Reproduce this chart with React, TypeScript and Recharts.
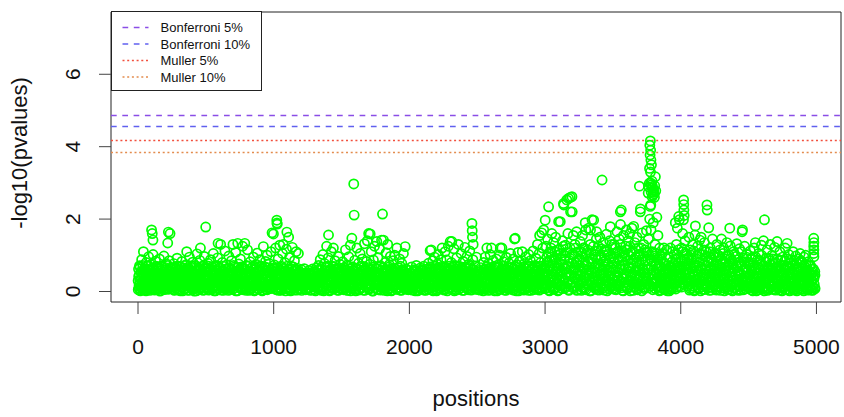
import { ScatterChart, Scatter, XAxis, YAxis, ReferenceLine, ReferenceArea } from "recharts";

// [position, -log10(pvalue)], one block per 250 positions
const block00 = [[2,.05],[5,.42],[8,.18],[11,.71],[14,.3],[17,.02],[20,.55],[23,.12],[27,.88],[30,.25],[33,.08],[36,.47],[40,1.1],[43,.2],[46,.63],[50,.04],[53,.35],[57,.15],[60,.8],[64,.27],[67,.5],[71,.09],[74,.38],[78,.96],[81,.16],[85,.6],[88,.03],[92,.31],[95,.74],[99,.22],[100,1.7],[103,.45],[105,1.6],[107,.11],[110,1.42],[111,1.02],[114,.36],[118,.06],[121,.57],[125,.24],[129,.84],[132,.14],[136,.41],[140,.66],[143,.07],[147,.29],[151,.52],[154,.19],[158,.9],[162,.01],[165,.34],[169,.7],[173,.13],[176,.44],[180,.23],[184,.61],[188,.05],[191,.98],[195,.28],[199,.48],[203,.1],[207,.77],[210,.33],[214,.17],[218,.54],[219,1.34],[222,.06],[224,1.64],[226,.39],[230,.85],[234,.21],[236,1.6],[238,.62],[242,.12],[246,.46]];
const block01 = [[252,.08],[256,.52],[260,.21],[264,.77],[268,.03],[272,.36],[276,.14],[280,.63],[284,.27],[288,.92],[292,.06],[296,.45],[300,.18],[304,.69],[308,.31],[312,.02],[316,.57],[320,.24],[324,.83],[328,.11],[332,.4],[336,.65],[340,.07],[344,.29],[348,.5],[352,.16],[356,.74],[359,1.1],[363,.34],[367,.04],[371,.58],[375,.22],[379,.95],[383,.13],[387,.43],[391,.67],[395,.09],[399,.3],[403,.81],[407,.19],[411,.53],[415,.01],[419,.37],[423,.72],[427,.15],[431,.47],[435,1.04],[439,.26],[443,.6],[447,.05],[451,.33],[455,.86],[460,1.2],[464,.12],[468,.49],[472,.23],[476,.7],[480,.03],[484,.39],[488,.97],[492,.17],[496,.55],[499,1.78]];
const block02 = [[503,.1],[507,.46],[511,.2],[515,.78],[519,.04],[523,.35],[527,.62],[531,.15],[535,.88],[539,.27],[543,.06],[547,.51],[551,.32],[555,1.05],[559,.12],[563,.42],[567,.7],[571,.02],[575,.25],[579,.58],[583,.17],[587,.93],[590,1.33],[594,.38],[598,.08],[602,.66],[606,.22],[609,1.3],[613,.45],[617,.11],[621,.8],[625,.3],[629,.03],[633,.55],[637,.19],[641,1.12],[645,.4],[649,.07],[653,.73],[657,.28],[661,.5],[665,.14],[669,.98],[673,.34],[677,.05],[681,.6],[685,.23],[689,.85],[693,.13],[697,.47],[700,1.3],[704,.09],[708,.36],[712,.68],[716,.18],[720,1.08],[724,.29],[728,.54],[732,.02],[735,1.33],[739,.41],[743,.76],[747,.16]];
const block03 = [[751,.26],[755,.9],[759,.12],[763,.5],[767,.34],[771,1.25],[775,.05],[779,.63],[783,.2],[787,1.33],[791,.44],[795,.08],[799,.72],[803,.3],[807,1.15],[811,.17],[815,.56],[819,.03],[823,.39],[827,.82],[831,.22],[835,.48],[839,.1],[843,.67],[847,.31],[851,.95],[855,.14],[859,.53],[863,.04],[867,.36],[871,.75],[875,.19],[879,1.06],[883,.42],[887,.07],[891,.6],[895,.27],[899,.88],[903,.11],[907,.45],[911,.7],[915,.02],[919,.33],[924,1.24],[928,.16],[932,.58],[936,.24],[940,.83],[944,.06],[948,.4],[952,1.0],[956,.13],[960,.52],[964,.29],[968,.77],[972,.09],[976,.37],[980,1.1],[984,.2],[988,1.62],[992,.47],[995,.65],[998,1.59]];
const block04 = [[1002,.14],[1006,.73],[1010,.31],[1014,1.2],[1018,.05],[1021,.58],[1023,1.97],[1024,1.89],[1026,1.86],[1029,.22],[1033,.9],[1037,.4],[1041,.1],[1045,1.28],[1049,.47],[1053,.03],[1057,.66],[1061,.25],[1065,1.05],[1070,1.3],[1074,.17],[1078,.55],[1082,.8],[1086,.08],[1090,.36],[1094,1.17],[1097,1.64],[1101,.28],[1105,.61],[1110,1.5],[1113,.12],[1117,.94],[1121,.43],[1125,.02],[1129,.7],[1133,.2],[1137,1.22],[1141,.35],[1145,.09],[1149,.57],[1153,.85],[1157,.15],[1161,.46],[1165,1.1],[1169,.27],[1173,.04],[1177,.64],[1182,1.05],[1186,.19],[1190,.5],[1195,.33],[1200,.07],[1205,.6],[1210,.24],[1215,.45],[1220,.11],[1225,.63],[1230,.3],[1236,.05],[1241,.52],[1246,.18]];
const block05 = [[1251,.4],[1256,.09],[1261,.58],[1266,.21],[1271,.03],[1276,.47],[1281,.26],[1286,.62],[1291,.12],[1296,.38],[1301,.05],[1306,.55],[1311,.19],[1316,.65],[1321,.3],[1326,.08],[1331,.72],[1335,.42],[1339,.15],[1343,.88],[1347,.27],[1351,.03],[1355,.6],[1359,.34],[1363,1.02],[1367,.11],[1371,.5],[1375,.77],[1379,.2],[1383,.06],[1387,.44],[1390,1.25],[1394,.68],[1398,.16],[1402,.93],[1404,1.56],[1408,.32],[1412,.02],[1416,.57],[1420,.24],[1424,1.1],[1428,.41],[1432,.08],[1436,.7],[1440,1.2],[1444,.18],[1448,.49],[1452,.85],[1456,.13],[1460,.36],[1464,.63],[1468,.04],[1472,.28],[1476,.97],[1480,.14],[1484,.53],[1488,.75],[1492,.22],[1496,.07]];
const block06 = [[1501,.45],[1505,.17],[1509,.82],[1513,.31],[1517,.05],[1521,.6],[1525,.25],[1529,1.15],[1533,.12],[1537,.5],[1541,.73],[1545,.03],[1549,.38],[1553,.96],[1557,.2],[1561,.56],[1565,1.28],[1569,.09],[1573,.43],[1576,1.47],[1580,.67],[1584,.15],[1588,.34],[1590,2.97],[1593,2.11],[1597,.86],[1601,.27],[1605,.02],[1609,.62],[1613,1.2],[1617,.19],[1621,.46],[1625,.78],[1629,.07],[1633,.35],[1637,1.05],[1641,.23],[1645,.54],[1649,.11],[1653,.9],[1657,.4],[1661,.04],[1665,.69],[1669,1.32],[1673,.28],[1677,.14],[1681,.58],[1685,.83],[1690,1.4],[1694,.2],[1698,.48],[1700,1.6],[1704,.06],[1708,.75],[1711,1.59],[1715,.33],[1719,1.1],[1723,.16],[1727,.52],[1731,.01],[1735,.87],[1739,.3],[1743,1.25],[1747,.44]];
const block07 = [[1751,.1],[1755,.64],[1760,1.38],[1764,.25],[1768,.93],[1772,.05],[1776,.47],[1780,1.18],[1784,.19],[1788,.71],[1792,.36],[1795,1.42],[1799,.12],[1802,2.14],[1806,.55],[1809,1.42],[1813,.28],[1817,.03],[1821,.8],[1825,.41],[1829,1.07],[1833,.16],[1837,.6],[1840,1.3],[1844,.08],[1848,.33],[1852,.74],[1856,.21],[1860,.97],[1864,.45],[1868,.02],[1872,.58],[1876,.26],[1880,.85],[1884,.13],[1888,.39],[1892,1.0],[1896,.18],[1900,.52],[1904,.07],[1908,1.2],[1912,.31],[1916,.66],[1920,.11],[1924,.43],[1928,.9],[1932,.04],[1936,.24],[1940,.57],[1944,.78],[1948,.15],[1952,.37],[1956,1.05],[1960,.09],[1964,.49],[1969,1.24],[1973,.29],[1977,.62],[1981,.06],[1986,.42],[1991,.2],[1996,.58]];
const block08 = [[2001,.12],[2006,.5],[2011,.27],[2016,.68],[2021,.04],[2026,.36],[2031,.18],[2036,.6],[2041,.09],[2046,.44],[2051,.72],[2056,.22],[2061,.02],[2066,.53],[2071,.31],[2076,.14],[2081,.65],[2086,.4],[2091,.07],[2096,.57],[2101,.25],[2106,.7],[2111,.16],[2116,.47],[2121,.03],[2126,.34],[2131,.62],[2136,.2],[2141,.78],[2145,.1],[2149,.45],[2153,1.13],[2157,.3],[2161,1.15],[2165,.55],[2169,.05],[2173,.85],[2177,.23],[2181,.42],[2185,.95],[2189,.13],[2193,.63],[2197,.35],[2201,.02],[2205,.76],[2209,.19],[2213,1.02],[2217,.48],[2221,.08],[2225,.58],[2229,.28],[2233,.88],[2237,.15],[2241,1.2],[2245,.4]];
const block09 = [[2251,.06],[2255,.66],[2259,.33],[2263,1.1],[2267,.17],[2271,.5],[2275,.87],[2279,.02],[2283,.4],[2287,1.25],[2291,.23],[2295,.61],[2299,.11],[2301,1.38],[2305,.45],[2309,.8],[2313,1.38],[2317,.29],[2321,.07],[2325,.56],[2329,1.18],[2333,.2],[2337,.72],[2341,.38],[2345,.04],[2349,.93],[2353,.26],[2357,.52],[2361,1.3],[2365,.14],[2369,.43],[2373,.69],[2377,.09],[2381,1.05],[2385,.31],[2389,.58],[2393,.18],[2397,.83],[2401,.03],[2405,.47],[2409,1.22],[2413,.24],[2417,.64],[2421,.12],[2425,.97],[2429,.36],[2433,.05],[2437,.75],[2441,.27],[2445,1.12],[2449,.41],[2453,.15],[2457,.6],[2461,1.88],[2463,1.68],[2465,1.5],[2468,.88],[2470,1.3],[2474,.21],[2478,.5],[2482,.08],[2486,.7],[2490,.33],[2494,.95],[2498,.16]];
const block10 = [[2502,.44],[2507,.1],[2512,.58],[2517,.25],[2522,.04],[2527,.66],[2532,.35],[2537,.15],[2542,.52],[2547,.8],[2551,.07],[2555,.4],[2559,.95],[2563,.2],[2567,.62],[2571,1.2],[2575,.3],[2579,.03],[2583,.77],[2587,.47],[2591,.12],[2595,1.02],[2599,.27],[2603,.56],[2605,1.2],[2609,.09],[2613,.38],[2617,.86],[2621,.18],[2625,.5],[2629,.02],[2633,.68],[2637,.31],[2641,.9],[2645,.14],[2649,.43],[2653,.73],[2657,.06],[2661,.36],[2665,1.0],[2670,1.2],[2674,.22],[2678,.59],[2682,1.2],[2686,.11],[2690,.45],[2694,.82],[2698,.28],[2702,.04],[2706,.63],[2710,.19],[2714,.94],[2718,.39],[2722,.08],[2726,.55],[2730,.25],[2734,.78],[2738,.13],[2742,.49],[2746,1.05]];
const block11 = [[2751,.2],[2755,.67],[2759,.05],[2763,.4],[2767,.9],[2771,.16],[2775,1.45],[2779,.52],[2780,1.47],[2784,.28],[2788,.02],[2792,.74],[2796,.35],[2800,1.08],[2804,.12],[2808,.46],[2812,.83],[2816,.23],[2820,.07],[2824,.6],[2828,.31],[2832,1.1],[2836,.18],[2840,.5],[2844,.04],[2848,.77],[2852,.38],[2856,.95],[2860,.14],[2864,.55],[2868,.27],[2872,.09],[2876,.7],[2880,1.02],[2884,.21],[2888,.44],[2892,.85],[2896,.03],[2900,.33],[2904,.62],[2908,.17],[2912,1.12],[2916,.48],[2920,.1],[2924,.72],[2928,.26],[2932,.92],[2936,.4],[2940,.06],[2944,1.3],[2948,.57],[2952,.19],[2956,1.05],[2960,1.55],[2964,.36],[2968,.8],[2972,.12],[2975,1.62],[2979,.47],[2983,1.2],[2987,.24],[2990,1.7],[2994,.65],[2998,.08]];
const block12 = [[3001,1.97],[3003,.5],[3007,1.25],[3011,.18],[3015,.82],[3019,1.45],[3023,.33],[3026,2.34],[3030,.04],[3034,.68],[3038,1.1],[3042,.26],[3046,.95],[3050,1.6],[3054,.12],[3058,.55],[3062,1.35],[3066,.4],[3070,.07],[3074,.88],[3078,1.5],[3082,.22],[3086,.62],[3090,1.15],[3094,.02],[3098,.45],[3100,1.93],[3104,.76],[3108,.3],[3112,1.93],[3116,1.05],[3120,.15],[3124,.58],[3128,1.4],[3132,.36],[3136,2.43],[3138,2.39],[3142,.9],[3146,.09],[3150,1.28],[3154,.47],[3158,.7],[3160,2.53],[3164,.2],[3168,1.6],[3173,2.57],[3176,.03],[3180,.85],[3184,1.2],[3186,2.6],[3188,2.2],[3192,.42],[3196,1.02],[3198,2.62],[3200,2.2],[3204,.27],[3208,1.55],[3212,.6],[3216,.11],[3220,1.3],[3224,.38],[3228,.8],[3232,1.65],[3236,.05],[3240,.52],[3244,1.1],[3248,.24]];
const block13 = [[3252,.72],[3256,.14],[3260,1.38],[3264,.45],[3268,.03],[3272,.95],[3276,1.55],[3280,.3],[3284,.62],[3288,1.2],[3292,.08],[3296,1.9],[3300,1.7],[3304,.52],[3308,1.05],[3312,.2],[3316,.83],[3321,1.75],[3325,.36],[3329,.02],[3333,1.3],[3335,1.7],[3339,.6],[3343,.17],[3346,1.98],[3350,.9],[3354,.41],[3358,1.97],[3362,.1],[3366,1.12],[3370,.55],[3374,.26],[3378,1.45],[3380,1.65],[3384,.05],[3388,.77],[3392,1.25],[3396,.33],[3400,.65],[3404,1.5],[3408,.12],[3412,.98],[3416,.48],[3420,3.08],[3424,.22],[3428,1.35],[3432,.7],[3436,.04],[3440,1.15],[3444,.38],[3448,.86],[3452,1.58],[3456,.15],[3460,.58],[3464,1.02],[3468,.28],[3472,.07],[3476,1.4],[3481,1.79],[3485,.44],[3489,.92],[3493,.19],[3497,1.22]];
const block14 = [[3501,.35],[3505,.8],[3509,1.3],[3513,.06],[3517,.55],[3521,1.05],[3525,.2],[3530,1.65],[3534,.42],[3538,.9],[3542,.13],[3546,1.45],[3550,.63],[3555,2.2],[3556,1.85],[3560,.28],[3562,2.25],[3566,1.12],[3570,.03],[3574,.74],[3578,1.55],[3582,.37],[3586,.98],[3590,.16],[3594,1.25],[3598,.5],[3600,1.7],[3604,.09],[3608,.85],[3612,1.4],[3616,.31],[3620,.66],[3624,1.6],[3628,.02],[3632,1.08],[3636,.45],[3640,1.75],[3644,.22],[3648,.78],[3653,1.8],[3657,.12],[3661,1.35],[3665,.58],[3669,.95],[3673,.25],[3677,1.5],[3681,.05],[3685,.7],[3689,1.2],[3692,.4],[3695,2.91],[3698,1.02],[3702,2.2],[3703,2.28],[3707,.17],[3711,.88],[3715,1.62],[3719,.33],[3723,.6],[3727,1.3],[3731,.08],[3735,.52],[3739,1.15],[3743,.27],[3747,1.68]];
const block15 = [[3751,.6],[3755,1.1],[3758,.22],[3760,2.72],[3762,1.45],[3765,.4],[3766,2.88],[3768,2.99],[3770,3.4],[3771,2.0],[3772,4.04],[3774,3.77],[3775,2.35],[3776,4.16],[3777,3.3],[3778,3.9],[3778,3.0],[3779,2.39],[3780,3.63],[3781,1.7],[3782,2.75],[3784,3.5],[3785,2.95],[3786,.85],[3788,3.05],[3789,2.62],[3790,2.85],[3792,2.9],[3795,2.66],[3797,1.9],[3798,2.74],[3800,2.8],[3803,2.7],[3806,2.6],[3808,2.92],[3810,1.3],[3813,3.17],[3816,2.78],[3820,.5],[3824,2.05],[3828,.95],[3832,1.55],[3836,.15],[3840,.7],[3844,1.2],[3848,.33],[3852,.04],[3856,.9],[3860,.45],[3864,1.05],[3868,.18],[3872,.62],[3876,1.2],[3880,.28],[3884,.08],[3888,.77],[3892,.38],[3896,1.15],[3900,.12],[3904,.55],[3908,.95],[3912,.24],[3916,.02],[3920,.68],[3924,1.2],[3928,.35],[3932,.1],[3936,.82],[3940,1.1],[3944,.46],[3948,.2],[3952,1.02],[3956,.58],[3960,1.9],[3964,.07],[3968,1.3],[3972,.72],[3975,1.75],[3979,.3],[3982,1.15],[3985,2.07],[3990,1.98],[3994,.5],[3998,.9]];
const block16 = [[4002,.35],[4006,1.2],[4010,.7],[4014,1.6],[4017,.2],[4020,1.98],[4021,2.53],[4022,2.4],[4023,2.25],[4025,2.1],[4028,.9],[4032,1.4],[4036,.45],[4040,.6],[4044,1.05],[4048,.3],[4052,.15],[4056,.78],[4060,1.5],[4064,.04],[4068,.52],[4072,1.15],[4076,.25],[4080,.88],[4084,.1],[4088,1.3],[4092,.42],[4096,.67],[4100,.02],[4105,1.56],[4108,1.81],[4112,.33],[4116,.97],[4120,.18],[4124,1.25],[4128,.55],[4132,.08],[4136,.8],[4140,1.42],[4144,.27],[4148,.62],[4150,1.5],[4154,.13],[4158,1.02],[4162,.4],[4166,.05],[4170,.74],[4174,1.35],[4178,.22],[4182,.5],[4186,1.1],[4190,.16],[4193,2.39],[4195,2.25],[4199,.85],[4203,.36],[4206,1.76],[4210,.03],[4214,.6],[4218,1.2],[4222,.29],[4226,.93],[4230,.11],[4234,1.45],[4238,.47],[4242,.7],[4246,.19]];
const block17 = [[4250,1.05],[4254,.38],[4258,.07],[4262,.82],[4266,1.3],[4270,.25],[4274,.55],[4278,.12],[4282,.95],[4286,.42],[4290,1.15],[4294,.03],[4298,.66],[4300,1.45],[4304,.2],[4308,.75],[4312,.33],[4316,1.2],[4320,.09],[4324,.58],[4328,.9],[4332,.17],[4336,.46],[4340,1.35],[4344,.05],[4348,.7],[4352,.28],[4356,1.0],[4361,1.75],[4365,1.26],[4369,.14],[4373,.52],[4377,.85],[4381,.02],[4385,.4],[4389,1.1],[4393,.23],[4397,.63],[4401,.1],[4405,.97],[4409,.35],[4413,1.32],[4417,.06],[4421,.5],[4425,.8],[4429,.18],[4433,1.18],[4437,.44],[4441,.04],[4445,.72],[4449,.3],[4452,1.65],[4455,1.7],[4459,.92],[4463,.15],[4467,.56],[4471,1.25],[4475,.26],[4479,.08],[4483,.68],[4487,1.02],[4491,.37],[4495,.13]];
const block18 = [[4501,.8],[4505,.21],[4509,.47],[4513,1.12],[4517,.05],[4521,.6],[4525,.3],[4529,.95],[4533,.12],[4537,.42],[4541,1.2],[4545,.18],[4550,1.35],[4554,.65],[4558,.02],[4562,.36],[4566,.88],[4570,.25],[4574,1.05],[4578,.09],[4582,.52],[4586,.75],[4590,.15],[4594,1.28],[4598,.4],[4602,.06],[4606,.7],[4610,1.4],[4614,.27],[4617,1.98],[4621,.55],[4625,.1],[4629,.92],[4633,.33],[4637,1.15],[4641,.03],[4645,.62],[4649,.2],[4653,.85],[4657,.45],[4660,1.3],[4664,.13],[4668,.58],[4672,1.0],[4676,.07],[4680,.38],[4684,.78],[4688,.24],[4692,1.22],[4696,.49],[4700,.04],[4704,.66],[4708,.16],[4710,1.38],[4714,.9],[4718,.31],[4722,.09],[4726,.55],[4730,1.1],[4734,.2],[4738,.72],[4742,.42],[4746,.02]];
const block19 = [[4750,.95],[4754,.28],[4758,.6],[4762,.11],[4766,.85],[4770,1.2],[4774,.35],[4778,.05],[4782,.7],[4784,1.33],[4788,.18],[4792,.5],[4796,1.02],[4800,.23],[4804,.03],[4808,.65],[4812,.4],[4816,.88],[4820,.14],[4824,.52],[4828,1.1],[4832,.07],[4836,.32],[4840,.75],[4844,.19],[4848,.98],[4852,.45],[4856,.02],[4860,.62],[4864,.26],[4868,.9],[4872,.1],[4876,.4],[4880,1.05],[4884,.16],[4888,.56],[4892,.3],[4896,.8],[4900,.06],[4904,.47],[4908,.95],[4912,.2],[4916,.68],[4920,1.0],[4924,.12],[4928,.36],[4932,.58],[4936,.04],[4940,.82],[4944,.25],[4948,.5],[4952,.09],[4956,.72],[4960,.3],[4964,.15],[4968,.62],[4972,.03],[4976,.44],[4980,1.47],[4981,1.35],[4980,1.25],[4981,1.15],[4980,1.05],[4981,.96],[4984,.2],[4988,.55],[4990,.08]];

// the denser low part of the band (values under ~0.7, higher around 3000-3750)
const low00 = [[1,.3],[4,.62],[7,.1],[10,.45],[13,.2],[16,.68],[19,.35],[22,.05],[25,.52],[28,.15],[32,.4],[35,.72],[38,.28],[42,.08],[45,.55],[48,.32],[52,.6],[55,.18],[59,.02],[62,.44],[66,.25],[69,.7],[73,.12],[76,.5],[80,.34],[83,.06],[87,.58],[90,.22],[94,.42],[97,.1],[102,.65],[106,.3],[109,.48],[113,.16],[116,.6],[120,.38],[123,.04],[127,.52],[131,.2],[134,.7],[138,.28],[142,.45],[145,.08],[149,.62],[152,.36],[156,.14],[160,.5],[163,.25],[167,.03],[171,.58],[174,.33],[178,.68],[182,.1],[186,.42],[189,.24],[193,.55],[197,.06],[201,.38],[205,.66],[208,.18],[212,.47],[216,.3],[220,.72],[224,.1],[228,.56],[232,.35],[236,.2],[240,.48],[244,.64],[248,.27]];
const low01 = [[250,.4],[254,.15],[258,.66],[262,.3],[266,.05],[270,.55],[274,.22],[278,.48],[282,.1],[286,.7],[290,.35],[294,.18],[298,.6],[302,.04],[306,.42],[310,.26],[314,.68],[318,.12],[322,.5],[326,.3],[330,.02],[334,.57],[338,.2],[342,.44],[346,.72],[350,.08],[354,.36],[358,.6],[362,.16],[366,.48],[370,.28],[374,.03],[378,.62],[382,.4],[386,.13],[390,.54],[394,.24],[398,.7],[402,.06],[406,.45],[410,.32],[414,.64],[418,.1],[422,.5],[426,.2],[430,.02],[434,.58],[438,.38],[442,.15],[446,.66],[450,.27],[454,.46],[458,.08],[462,.6],[466,.34],[470,.12],[474,.52],[478,.7],[482,.22],[486,.42],[490,.05],[494,.63],[497,.3]];
const low02 = [[501,.3],[505,.62],[509,.12],[513,.45],[517,.22],[521,.7],[525,.05],[529,.4],[533,.56],[537,.18],[541,.35],[545,.68],[549,.1],[553,.48],[557,.26],[561,.02],[565,.6],[569,.38],[573,.14],[577,.52],[581,.72],[585,.28],[589,.07],[593,.44],[597,.64],[601,.2],[605,.5],[609,.33],[613,.04],[617,.58],[621,.16],[625,.42],[629,.7],[633,.25],[637,.08],[641,.55],[645,.36],[649,.62],[653,.12],[657,.46],[661,.2],[665,.03],[669,.66],[673,.3],[677,.52],[681,.1],[685,.4],[689,.6],[693,.24],[697,.06],[701,.5],[705,.72],[709,.18],[713,.36],[717,.56],[721,.02],[725,.44],[729,.65],[733,.28],[737,.14],[741,.54],[745,.32],[748,.6]];
const low03 = [[749,.1],[753,.48],[757,.3],[761,.68],[765,.06],[769,.52],[773,.22],[777,.4],[781,.62],[785,.14],[789,.35],[793,.58],[797,.03],[801,.46],[805,.25],[809,.7],[813,.12],[817,.38],[821,.55],[825,.2],[829,.05],[833,.64],[837,.32],[841,.48],[845,.16],[849,.6],[853,.28],[857,.02],[861,.5],[865,.42],[869,.1],[873,.66],[877,.34],[881,.22],[885,.56],[889,.07],[893,.44],[897,.7],[901,.3],[905,.15],[909,.54],[913,.38],[917,.04],[921,.62],[925,.26],[929,.47],[933,.12],[937,.68],[941,.36],[945,.2],[949,.58],[953,.05],[957,.42],[961,.65],[965,.18],[969,.5],[973,.3],[977,.08],[981,.6],[985,.4],[989,.15],[993,.55],[997,.25]];
const low04 = [[1000,.5],[1004,.2],[1008,.62],[1012,.08],[1016,.4],[1020,.28],[1024,.66],[1028,.12],[1032,.5],[1036,.03],[1040,.35],[1044,.58],[1048,.18],[1052,.44],[1056,.7],[1060,.06],[1064,.3],[1068,.52],[1072,.22],[1076,.64],[1080,.14],[1084,.42],[1088,.02],[1092,.56],[1096,.26],[1100,.7],[1104,.1],[1108,.38],[1112,.6],[1116,.2],[1120,.48],[1124,.05],[1128,.34],[1132,.62],[1136,.15],[1140,.45],[1144,.68],[1148,.28],[1152,.04],[1156,.55],[1160,.32],[1164,.12],[1168,.6],[1172,.4],[1176,.2],[1180,.5],[1184,.08],[1188,.36],[1192,.55],[1197,.16],[1202,.42],[1207,.03],[1212,.3],[1217,.5],[1222,.2],[1227,.38],[1232,.06],[1238,.46],[1243,.26],[1248,.1]];
const low05 = [[1253,.25],[1258,.46],[1263,.1],[1268,.35],[1273,.52],[1278,.05],[1283,.3],[1288,.44],[1293,.18],[1298,.55],[1303,.28],[1308,.02],[1313,.4],[1318,.22],[1323,.5],[1328,.12],[1333,.36],[1337,.6],[1341,.06],[1345,.45],[1349,.25],[1353,.68],[1357,.14],[1361,.5],[1365,.32],[1369,.02],[1373,.58],[1377,.4],[1381,.2],[1385,.66],[1389,.1],[1393,.46],[1397,.3],[1401,.7],[1405,.15],[1409,.5],[1413,.35],[1417,.04],[1421,.62],[1425,.24],[1429,.55],[1433,.12],[1437,.42],[1441,.68],[1445,.3],[1449,.08],[1453,.52],[1457,.2],[1461,.6],[1465,.38],[1469,.14],[1473,.48],[1477,.03],[1481,.66],[1485,.32],[1489,.1],[1493,.56],[1497,.26]];
const low06 = [[1499,.6],[1503,.3],[1507,.08],[1511,.5],[1515,.2],[1519,.66],[1523,.4],[1527,.12],[1531,.58],[1535,.28],[1539,.04],[1543,.46],[1547,.7],[1551,.16],[1555,.36],[1559,.62],[1563,.24],[1567,.02],[1571,.52],[1575,.34],[1579,.1],[1583,.68],[1587,.44],[1591,.2],[1595,.56],[1599,.06],[1603,.4],[1607,.26],[1611,.64],[1615,.14],[1619,.5],[1623,.32],[1627,.04],[1631,.6],[1635,.22],[1639,.45],[1643,.7],[1647,.1],[1651,.38],[1655,.58],[1659,.18],[1663,.48],[1667,.28],[1671,.03],[1675,.62],[1679,.36],[1683,.12],[1687,.54],[1691,.3],[1695,.66],[1699,.08],[1703,.42],[1707,.22],[1711,.6],[1715,.15],[1719,.5],[1723,.35],[1727,.02],[1731,.56],[1735,.26],[1739,.68],[1743,.1],[1747,.4]];
const low07 = [[1749,.2],[1753,.5],[1757,.3],[1761,.06],[1765,.62],[1769,.4],[1773,.16],[1777,.7],[1781,.26],[1785,.48],[1789,.04],[1793,.58],[1797,.34],[1801,.12],[1805,.66],[1809,.22],[1813,.5],[1817,.38],[1821,.08],[1825,.6],[1829,.28],[1833,.44],[1837,.02],[1841,.54],[1845,.18],[1849,.68],[1853,.36],[1857,.1],[1861,.46],[1865,.62],[1869,.24],[1873,.05],[1877,.42],[1881,.56],[1885,.3],[1889,.14],[1893,.64],[1897,.4],[1901,.2],[1905,.52],[1909,.06],[1913,.36],[1917,.58],[1921,.26],[1925,.12],[1929,.48],[1933,.7],[1937,.34],[1941,.03],[1945,.45],[1949,.6],[1953,.18],[1957,.28],[1961,.55],[1965,.1],[1969,.4],[1973,.22],[1977,.5],[1982,.14],[1987,.35],[1992,.05],[1997,.45]];
const low08 = [[2003,.3],[2008,.08],[2013,.48],[2018,.2],[2023,.55],[2028,.12],[2033,.4],[2038,.26],[2043,.02],[2048,.58],[2053,.34],[2058,.15],[2063,.45],[2068,.05],[2073,.52],[2078,.28],[2083,.1],[2088,.6],[2093,.36],[2098,.18],[2103,.5],[2108,.04],[2113,.3],[2118,.56],[2123,.22],[2128,.14],[2133,.44],[2138,.06],[2143,.38],[2147,.6],[2151,.2],[2155,.68],[2159,.1],[2163,.46],[2167,.3],[2171,.62],[2175,.02],[2179,.54],[2183,.25],[2187,.7],[2191,.4],[2195,.15],[2199,.58],[2203,.3],[2207,.05],[2211,.48],[2215,.66],[2219,.2],[2223,.36],[2227,.1],[2231,.6],[2235,.42],[2239,.24],[2243,.7],[2247,.12]];
const low09 = [[2249,.5],[2253,.26],[2257,.04],[2261,.58],[2265,.4],[2269,.15],[2273,.66],[2277,.3],[2281,.55],[2285,.08],[2289,.45],[2293,.7],[2297,.2],[2303,.6],[2307,.1],[2311,.36],[2315,.52],[2319,.18],[2323,.68],[2327,.28],[2331,.02],[2335,.48],[2339,.62],[2343,.24],[2347,.42],[2351,.12],[2355,.7],[2359,.34],[2363,.06],[2367,.56],[2371,.25],[2375,.46],[2379,.64],[2383,.16],[2387,.38],[2391,.03],[2395,.6],[2399,.3],[2403,.5],[2407,.14],[2411,.68],[2415,.4],[2419,.22],[2423,.55],[2427,.08],[2431,.44],[2435,.62],[2439,.18],[2443,.35],[2447,.7],[2451,.26],[2455,.04],[2459,.5],[2463,.32],[2467,.12],[2471,.6],[2475,.4],[2479,.2],[2483,.52],[2487,.06],[2491,.45],[2495,.28],[2499,.55]];
const low10 = [[2504,.3],[2509,.05],[2514,.42],[2519,.18],[2524,.5],[2529,.1],[2534,.28],[2539,.46],[2544,.02],[2548,.38],[2552,.6],[2556,.22],[2560,.12],[2564,.5],[2568,.68],[2572,.34],[2576,.08],[2580,.56],[2584,.2],[2588,.44],[2592,.64],[2596,.04],[2600,.4],[2604,.26],[2608,.6],[2612,.14],[2616,.5],[2620,.3],[2624,.7],[2628,.1],[2632,.46],[2636,.2],[2640,.58],[2644,.36],[2648,.02],[2652,.52],[2656,.24],[2660,.66],[2664,.16],[2668,.42],[2672,.06],[2676,.32],[2680,.62],[2684,.26],[2688,.5],[2692,.12],[2696,.7],[2700,.38],[2704,.18],[2708,.48],[2712,.03],[2716,.6],[2720,.3],[2724,.14],[2728,.66],[2732,.42],[2736,.08],[2740,.56],[2744,.22],[2748,.4]];
const low11 = [[2753,.45],[2757,.1],[2761,.62],[2765,.28],[2769,.04],[2773,.5],[2777,.7],[2782,.18],[2786,.42],[2790,.6],[2794,.12],[2798,.36],[2802,.55],[2806,.02],[2810,.3],[2814,.66],[2818,.2],[2822,.46],[2826,.1],[2830,.58],[2834,.38],[2838,.15],[2842,.68],[2846,.26],[2850,.06],[2854,.5],[2858,.34],[2862,.62],[2866,.14],[2870,.44],[2874,.22],[2878,.03],[2882,.56],[2886,.7],[2890,.3],[2894,.12],[2898,.48],[2902,.2],[2906,.64],[2910,.38],[2914,.05],[2918,.54],[2922,.26],[2926,.7],[2930,.16],[2934,.45],[2938,.6],[2942,.1],[2946,.35],[2950,.68],[2954,.24],[2958,.04],[2962,.55],[2966,.42],[2970,.7],[2974,.2],[2978,.62],[2982,.08],[2986,.5],[2990,.32],[2994,.15],[2998,.66]];
const low12 = [[3002,.3],[3005,.72],[3009,.1],[3013,.95],[3017,.45],[3021,.2],[3025,1.05],[3028,.6],[3032,.02],[3036,.85],[3040,.38],[3044,1.2],[3048,.15],[3052,.7],[3056,.48],[3060,.06],[3064,.9],[3068,.28],[3072,1.1],[3076,.55],[3080,.12],[3084,.8],[3088,.36],[3092,1.0],[3096,.22],[3100,.65],[3102,.04],[3106,1.15],[3110,.5],[3114,.18],[3118,.88],[3122,.42],[3126,.08],[3130,.75],[3134,1.25],[3140,.3],[3144,.62],[3148,.98],[3152,.14],[3156,.52],[3162,1.08],[3166,.26],[3170,.7],[3174,.05],[3178,.45],[3182,.92],[3190,.2],[3194,.6],[3202,.78],[3206,.1],[3210,1.02],[3214,.38],[3218,.66],[3222,.16],[3226,1.2],[3230,.5],[3234,.03],[3238,.84],[3242,.32],[3246,.6]];
const low13 = [[3250,.18],[3254,.9],[3258,.42],[3262,.06],[3266,1.1],[3270,.55],[3274,.25],[3278,.8],[3282,1.2],[3286,.12],[3290,.62],[3294,.38],[3298,1.0],[3302,.05],[3306,.72],[3310,.44],[3314,1.15],[3318,.2],[3323,.6],[3327,.9],[3331,.3],[3337,.02],[3341,1.05],[3345,.5],[3348,.24],[3352,.78],[3356,1.25],[3360,.14],[3364,.66],[3368,.36],[3372,.95],[3376,.08],[3382,.52],[3386,1.12],[3390,.28],[3394,.7],[3398,.04],[3402,.45],[3406,.88],[3410,.2],[3414,1.18],[3418,.6],[3422,.34],[3426,.1],[3430,.82],[3434,.5],[3438,1.0],[3442,.16],[3446,.68],[3450,.3],[3454,1.1],[3458,.02],[3462,.42],[3466,.76],[3470,.22],[3474,.58],[3478,.96],[3483,.12],[3487,.65],[3491,1.3],[3495,.35],[3499,.08]];
const low14 = [[3503,.6],[3507,.15],[3511,.92],[3515,.4],[3519,1.2],[3523,.05],[3527,.7],[3532,.3],[3536,1.1],[3540,.52],[3544,.2],[3548,.85],[3552,1.3],[3558,.1],[3564,.62],[3568,.95],[3572,.35],[3576,.02],[3580,1.05],[3584,.48],[3588,.72],[3592,.25],[3596,1.15],[3602,.4],[3606,.08],[3610,.68],[3614,1.0],[3618,.18],[3622,.55],[3626,1.25],[3630,.3],[3634,.78],[3638,.12],[3642,1.1],[3646,.5],[3650,.03],[3655,.9],[3659,.42],[3663,.22],[3667,1.18],[3671,.6],[3675,.08],[3679,.82],[3683,.35],[3687,1.02],[3691,.15],[3694,.56],[3700,.75],[3705,.45],[3709,1.2],[3713,.02],[3717,.65],[3721,.28],[3725,.98],[3729,.5],[3733,.12],[3737,.85],[3741,.38],[3745,1.08],[3749,.2]];
const low15 = [[3753,.3],[3757,.85],[3761,.1],[3764,.62],[3767,1.0],[3769,.2],[3773,.5],[3776,.9],[3780,.15],[3783,.7],[3787,.35],[3791,1.1],[3794,.05],[3799,.6],[3802,.25],[3805,.98],[3809,.45],[3812,.08],[3815,.75],[3818,1.05],[3822,.3],[3826,.62],[3830,.12],[3834,.88],[3838,.4],[3842,.02],[3846,.55],[3850,1.0],[3854,.22],[3858,.68],[3862,.1],[3866,.42],[3870,.82],[3874,.3],[3878,.05],[3882,.58],[3886,.18],[3890,.48],[3894,.7],[3898,.26],[3902,.02],[3906,.4],[3910,.6],[3914,.14],[3918,.5],[3922,.32],[3926,.06],[3930,.65],[3934,.22],[3938,.45],[3942,.72],[3946,.1],[3950,.38],[3954,.6],[3958,.2],[3962,.9],[3966,.45],[3970,.12],[3974,1.02],[3978,.6],[3981,.28],[3984,.8],[3988,.42],[3992,.15],[3996,.62]];
const low16 = [[4000,.6],[4004,.12],[4008,.85],[4012,.4],[4016,1.1],[4019,.25],[4024,.7],[4027,.5],[4030,1.05],[4034,.3],[4038,.78],[4042,.5],[4046,.9],[4050,.35],[4054,.62],[4058,.2],[4062,.95],[4066,.4],[4070,.08],[4074,.66],[4078,1.0],[4082,.3],[4086,.55],[4090,.15],[4094,1.12],[4098,.42],[4102,.05],[4106,.72],[4110,.28],[4114,.58],[4118,.9],[4122,.12],[4126,.48],[4130,.7],[4134,.22],[4138,1.05],[4142,.4],[4146,.02],[4152,.62],[4156,.3],[4160,.85],[4164,.18],[4168,.5],[4172,1.15],[4176,.06],[4180,.7],[4184,.36],[4188,.96],[4192,.2],[4197,.55],[4201,.1],[4205,.8],[4208,.42],[4212,1.1],[4216,.25],[4220,.65],[4224,.04],[4228,.5],[4232,.88],[4236,.3],[4240,1.0],[4244,.14],[4248,.58]];
const low17 = [[4252,.5],[4256,.2],[4260,.95],[4264,.04],[4268,.62],[4272,.38],[4276,1.0],[4280,.15],[4284,.7],[4288,.28],[4292,.55],[4296,.9],[4302,.1],[4306,.45],[4310,1.05],[4314,.22],[4318,.62],[4322,.02],[4326,.36],[4330,.8],[4334,.5],[4338,.12],[4342,.98],[4346,.3],[4350,.58],[4354,.06],[4358,.72],[4363,.4],[4367,.9],[4371,.2],[4375,.05],[4379,.55],[4383,.75],[4387,.3],[4391,.62],[4395,.1],[4399,1.02],[4403,.45],[4407,.18],[4411,.7],[4415,.35],[4419,.88],[4423,.03],[4427,.56],[4431,.25],[4435,.8],[4439,.14],[4443,.48],[4447,1.1],[4451,.2],[4457,.6],[4461,.35],[4465,.05],[4469,.82],[4473,.42],[4477,.62],[4481,.16],[4485,.95],[4489,.3],[4493,.55],[4497,.75]];
const low18 = [[4503,.4],[4507,.1],[4511,.7],[4515,.3],[4519,.9],[4523,.16],[4527,.55],[4531,.02],[4535,.78],[4539,.38],[4543,.62],[4547,.08],[4552,.95],[4556,.28],[4560,.5],[4564,.14],[4568,.68],[4572,.42],[4576,.05],[4580,.85],[4584,.3],[4588,.6],[4592,.2],[4596,1.0],[4600,.45],[4604,.12],[4608,.72],[4612,.35],[4616,.02],[4619,.6],[4623,.25],[4627,.82],[4631,.5],[4635,.1],[4639,.66],[4643,.38],[4647,.92],[4651,.06],[4655,.55],[4659,.22],[4662,.75],[4666,.4],[4670,.14],[4674,.6],[4678,.9],[4682,.3],[4686,.05],[4690,.52],[4694,.2],[4698,.8],[4702,.36],[4706,.62],[4712,.12],[4716,.46],[4720,.7],[4724,.26],[4728,.04],[4732,.58],[4736,.86],[4740,.3],[4744,.14],[4748,.5]];
const low19 = [[4752,.12],[4756,.45],[4760,.72],[4764,.3],[4768,.05],[4772,.6],[4776,.2],[4780,.9],[4786,.4],[4790,.15],[4794,.68],[4798,.35],[4802,.02],[4806,.52],[4810,.8],[4814,.25],[4818,.5],[4822,.1],[4826,.7],[4830,.38],[4834,.04],[4838,.6],[4842,.28],[4846,.46],[4850,.12],[4854,.78],[4858,.34],[4862,.06],[4866,.56],[4870,.22],[4874,.66],[4878,.15],[4882,.42],[4886,.85],[4890,.08],[4894,.5],[4898,.28],[4902,.62],[4906,.02],[4910,.38],[4914,.2],[4918,.55],[4922,.75],[4926,.1],[4930,.44],[4934,.26],[4938,.6],[4942,.05],[4946,.35],[4950,.7],[4954,.18],[4958,.48],[4962,.04],[4966,.3],[4970,.52],[4974,.12],[4978,.62],[4982,.36],[4986,.1],[4989,.45]];

const xTicks = [0, 1000, 2000, 3000, 4000, 5000];
const yTicks = [0, 2, 4, 6];

const thresholdNames = ["Bonferroni 5%", "Bonferroni 10%", "Muller 5%", "Muller 10%"];
const thresholdValues = [4.86, 4.556, 4.17, 3.84];

const lineColors = ["#8a4de6", "#6060ef", "#f2503e", "#e38c4e"];
const lineDashes = ["5.7 5.6", "5.7 5.6", "2 2.7", "2 2.7"];

const FONT = "'Liberation Sans', Arial, Helvetica, sans-serif";

const points = [
  ...block00, ...block01, ...block02, ...block03, ...block04,
  ...block05, ...block06, ...block07, ...block08, ...block09,
  ...block10, ...block11, ...block12, ...block13, ...block14,
  ...block15, ...block16, ...block17, ...block18, ...block19,
  ...low00, ...low01, ...low02, ...low03, ...low04,
  ...low05, ...low06, ...low07, ...low08, ...low09,
  ...low10, ...low11, ...low12, ...low13, ...low14,
  ...low15, ...low16, ...low17, ...low18, ...low19,
].map(([x, y]) => ({ x, y }));

const Ring = (props: any) => (
  <circle cx={props.cx} cy={props.cy} r={4.6} fill="none" stroke="#00ff00" strokeWidth={1.7} />
);

const XTick = ({ x, y, payload }: any) => (
  <text x={x} y={y} textAnchor="middle" fontSize={21} fontFamily={FONT} fill="#111">
    {payload.value}
  </text>
);

const YTick = ({ x, y, payload }: any) => (
  <text x={x} y={y} transform={`rotate(-90 ${x} ${y})`} textAnchor="middle" fontSize={21} fontFamily={FONT} fill="#111">
    {payload.value}
  </text>
);

export default function App() {
  return (
    <div style={{ position: "absolute", left: 0, top: 0, width: 844, height: 417, background: "#fff" }}>
      <ScatterChart width={844} height={417} margin={{ top: 12, right: 3, bottom: 0, left: 0 }}>
        <XAxis
          type="number"
          dataKey="x"
          domain={[-199, 5181]}
          allowDataOverflow
          ticks={xTicks}
          height={115}
          axisLine={false}
          tickSize={12}
          tickMargin={40}
          tickLine={{ stroke: "#444" }}
          tick={<XTick />}
        />
        <YAxis
          type="number"
          dataKey="y"
          domain={[-0.29, 7.72]}
          allowDataOverflow
          ticks={yTicks}
          width={111}
          axisLine={false}
          tickSize={12}
          tickMargin={19}
          tickLine={{ stroke: "#444" }}
          tick={<YTick />}
        />
        <Scatter data={points} isAnimationActive={false} shape={Ring} />
        {thresholdValues.map((v, i) => (
          <ReferenceLine
            key={thresholdNames[i]}
            y={v}
            stroke={lineColors[i]}
            strokeWidth={1.6}
            strokeDasharray={lineDashes[i]}
          />
        ))}
        <ReferenceArea x1={-199} x2={5181} y1={-0.29} y2={7.72} fill="none" stroke="#222" strokeWidth={1} />
      </ScatterChart>

      <svg width={844} height={417} style={{ position: "absolute", left: 0, top: 0, pointerEvents: "none" }}>
        <text x={476} y={406} textAnchor="middle" fontSize={22} fontFamily={FONT} fill="#111">
          positions
        </text>
        <text x={27} y={153} transform="rotate(-90 27 153)" textAnchor="middle" fontSize={22} fontFamily={FONT} fill="#111">
          -log10(pvalues)
        </text>
        <g transform="translate(111.5 11.5)">
          <rect x={0} y={0} width={150} height={79} fill="#fff" stroke="#222" strokeWidth={1} />
          {thresholdNames.map((name, i) => (
            <g key={name}>
              <line
                x1={11}
                x2={37}
                y1={16 + i * 16.5}
                y2={16 + i * 16.5}
                stroke={lineColors[i]}
                strokeWidth={1.6}
                strokeDasharray={lineDashes[i]}
              />
              <text x={49} y={16 + i * 16.5} dominantBaseline="central" fontSize={13} fontFamily={FONT} fill="#111">
                {name}
              </text>
            </g>
          ))}
        </g>
      </svg>
    </div>
  );
}
